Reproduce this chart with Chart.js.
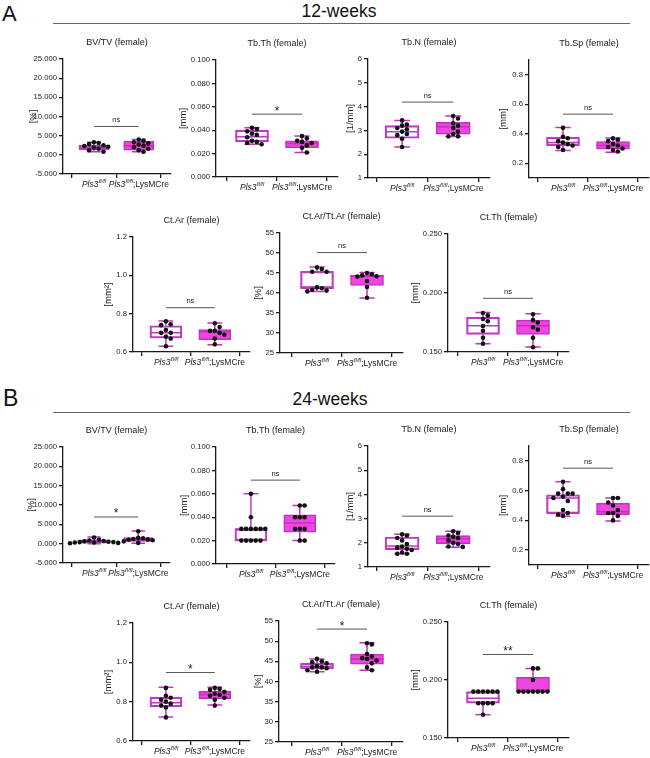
<!DOCTYPE html>
<html>
<head>
<meta charset="utf-8">
<script src="https://cdn.jsdelivr.net/npm/chart.js"></script>
<style>
body { margin:0; width:650px; height:758px; position:relative; background:#fff; overflow:hidden;
       font-family:"Liberation Sans", Arial, sans-serif; color:#111; }
.panel { position:absolute; line-height:1; }
.age { position:absolute; line-height:1; font-size:17.5px; transform:translateX(-50%); white-space:nowrap; }
.rule { position:absolute; height:1.3px; background:#666; }
canvas { position:absolute; }
</style>
</head>
<body>
<div class="panel" style="left:2px;top:3px;font-size:22px">A</div>
<div class="age" style="left:339px;top:3px">12-weeks</div>
<div class="rule" style="left:53px;width:577px;top:23px"></div>

<div class="panel" style="left:3px;top:387px;font-size:23px">B</div>
<div class="age" style="left:330px;top:391px">24-weeks</div>
<div class="rule" style="left:53px;width:577px;top:412px"></div>

<script type="text/JavaScript">

//------------------------------------------------------------------------------------------
// Data
//------------------------------------------------------------------------------------------

var GENE = "Pls3";
var GENE_SUP = "fl/fl";
var GROUP_SUFFIX = ["", ";LysMCre"];

var MEASURES = ["BV/TV (female)", "Tb.Th (female)", "Tb.N (female)", "Tb.Sp (female)",
                "Ct.Ar (female)", "Ct.Ar/Tt.Ar (female)", "Ct.Th (female)"];
var UNITS = ["[%]", "[mm]", "[1/mm]", "[mm]", "[mm\u00b2]", "[%]", "[mm]"];

// y axis range and tick labels per measure
var Y_RANGE = [[-5, 25], [0, 0.1], [1, 6], [0.1, 0.9], [0.6, 1.2], [25, 55], [0.15, 0.25]];
var Y_TICKS = [[-5, 0, 5, 10, 15, 20, 25],
               [0, 0.02, 0.04, 0.06, 0.08, 0.1],
               [1, 2, 3, 4, 5, 6],
               [0.2, 0.4, 0.6, 0.8],
               [0.6, 0.8, 1.0, 1.2],
               [25, 30, 35, 40, 45, 50, 55],
               [0.15, 0.2, 0.25]];
var Y_DECIMALS = [3, 3, 0, 1, 1, 0, 3];

// 12 weeks: points [control, LysMCre], box [min, q1, median, q3, max]
var bvtv12 = [[3.3, 3.1, 2.8, 2.5, 2.3, 2.1, 1.9, 1.6, 1.2, 0.8], [4.0, 3.7, 3.3, 3.0, 2.7, 2.4, 2.0, 1.6, 1.2, 0.8]];
var bvtv12Box = [[0.8, 1.3, 1.9, 2.5, 3.3], [0.8, 1.2, 2.35, 3.5, 4.0]];
var tbth12 = [[0.042, 0.041, 0.039, 0.037, 0.036, 0.034, 0.031, 0.030, 0.029, 0.028], [0.035, 0.033, 0.031, 0.030, 0.029, 0.027, 0.025, 0.021]];
var tbth12Box = [[0.028, 0.030, 0.0343, 0.040, 0.042], [0.021, 0.025, 0.0286, 0.031, 0.035]];
var tbn12 = [[3.42, 3.25, 3.2, 3.1, 3.05, 2.95, 2.85, 2.8, 2.65, 2.3], [3.6, 3.5, 3.3, 3.2, 3.1, 2.95, 2.85, 2.75, 2.75]];
var tbn12Box = [[2.3, 2.67, 2.94, 3.2, 3.42], [2.74, 2.84, 3.15, 3.34, 3.6]];
var tbsp12 = [[0.44, 0.38, 0.37, 0.35, 0.34, 0.33, 0.32, 0.31, 0.29], [0.37, 0.36, 0.35, 0.33, 0.32, 0.31, 0.30, 0.29, 0.28]];
var tbsp12Box = [[0.286, 0.32, 0.34, 0.377, 0.442], [0.275, 0.295, 0.32, 0.347, 0.372]];
var ctar12 = [[0.76, 0.745, 0.74, 0.715, 0.70, 0.70, 0.68, 0.67, 0.63], [0.75, 0.73, 0.71, 0.71, 0.70, 0.69, 0.67, 0.64]];
var ctar12Box = [[0.63, 0.673, 0.70, 0.737, 0.762], [0.638, 0.664, 0.706, 0.717, 0.751]];
var ctartt12 = [[46.4, 46.0, 45.3, 45.3, 41.4, 41.2, 40.8, 40.6, 40.4], [45.0, 44.7, 44.4, 44.2, 44.1, 43.0, 41.5, 38.8]];
var ctartt12Box = [[40.4, 41.1, 41.5, 45.4, 46.5], [38.75, 41.9, 44.2, 44.4, 45.1]];
var ctth12 = [[0.183, 0.181, 0.178, 0.176, 0.172, 0.168, 0.162, 0.157], [0.182, 0.177, 0.175, 0.171, 0.169, 0.162, 0.154]];
var ctth12Box = [[0.157, 0.165, 0.1722, 0.1796, 0.1835], [0.1543, 0.165, 0.1722, 0.177, 0.1824]];
var sig12 = ["ns", "*", "ns", "ns", "ns", "ns", "ns"];
var sig12Y = [7.4, 0.0537, 4.19, 0.533, 0.831, 50.1, 0.1955];

// 24 weeks
var bvtv24 = [[1.6, 1.0, 0.8, 0.7, 0.6, 0.5, 0.4, 0.4, 0.3, 0.3, 0.2, 0.1], [3.2, 1.5, 1.4, 1.2, 1.1, 1.0, 0.9, 0.6, 0.2]];
var bvtv24Box = [[0.0, 0.1, 0.5, 1.0, 1.7], [0.1, 0.6, 1.03, 1.55, 3.3]];
var tbth24 = [[0.06, 0.04, 0.03, 0.03, 0.03, 0.03, 0.03, 0.03, 0.02, 0.02, 0.02, 0.02, 0.02], [0.05, 0.05, 0.04, 0.04, 0.04, 0.03, 0.03, 0.03, 0.02, 0.02]];
var tbth24Box = [[0.02, 0.02, 0.03, 0.03, 0.06], [0.02, 0.0272, 0.035, 0.042, 0.05]];
var tbn24 = [[2.35, 2.3, 2.2, 2.1, 1.95, 1.85, 1.8, 1.75, 1.7, 1.6, 1.55, 1.55], [2.48, 2.4, 2.3, 2.25, 2.2, 2.1, 2.0, 1.95, 1.85, 1.83]];
var tbn24Box = [[1.55, 1.72, 1.87, 2.24, 2.35], [1.82, 1.96, 2.17, 2.3, 2.48]];
var tbsp24 = [[0.66, 0.61, 0.58, 0.58, 0.58, 0.56, 0.55, 0.53, 0.47, 0.45, 0.44, 0.43], [0.55, 0.55, 0.52, 0.50, 0.47, 0.45, 0.45, 0.43, 0.40]];
var tbsp24Box = [[0.427, 0.445, 0.55, 0.572, 0.66], [0.396, 0.438, 0.458, 0.514, 0.55]];
var ctar24 = [[0.87, 0.83, 0.82, 0.81, 0.80, 0.79, 0.78, 0.77, 0.72], [0.87, 0.865, 0.86, 0.85, 0.84, 0.835, 0.83, 0.82, 0.81, 0.78]];
var ctar24Box = [[0.722, 0.774, 0.794, 0.823, 0.873], [0.783, 0.815, 0.837, 0.852, 0.873]];
var ctartt24 = [[45.6, 45.0, 44.8, 44.5, 43.8, 43.5, 43.5, 43.3, 42.8, 42.4], [49.5, 49.2, 46.8, 46.2, 45.8, 45.6, 45.2, 44.5, 43.5, 42.8]];
var ctartt24Box = [[42.4, 43.1, 43.7, 44.5, 45.6], [42.8, 44.3, 45.6, 46.8, 49.6]];
var ctth24 = [[0.19, 0.19, 0.19, 0.19, 0.19, 0.19, 0.18, 0.18, 0.18, 0.18, 0.17], [0.21, 0.21, 0.20, 0.19, 0.19, 0.19, 0.19, 0.19, 0.19, 0.19]];
var ctth24Box = [[0.17, 0.18, 0.1843, 0.19, 0.19], [0.19, 0.19, 0.19, 0.2023, 0.21]];
var sig24 = ["*", "ns", "ns", "ns", "*", "*", "**"];
var sig24Y = [6.9, 0.0717, 3.1, 0.751, 0.948, 53.0, 0.222];

//------------------------------------------------------------------------------------------
// Layout: [axis left, group0 x, group1 x, plot top, plot bottom, y title offset]
//------------------------------------------------------------------------------------------

var LAYOUT12 = [[63, 94, 139, 59, 174, 30], [216, 252, 302, 60, 177, 33], [368, 402, 453, 59, 178, 18], [529, 563, 613, 60, 178, 26],
                [133, 166, 215, 237, 352, 25], [280, 317, 367, 233, 353, 22], [448, 483, 533, 234, 352, 33]];
var LAYOUT24 = [[63, 94, 138, 447, 563, 32], [216, 251, 300, 447, 564, 32], [368, 402, 453, 446, 567, 18], [529, 563, 613, 446, 565, 26],
                [133, 166, 215, 623, 741, 25], [279, 317, 367, 621, 742, 21], [448, 483, 533, 622, 738, 33]];

var OPEN_BORDER = "#BE3ABF";
var FILL = "#EE46DF";
var FILL_BORDER = "#C52FC1";
var INK = "#1a1a1a";
var FONT = '"Liberation Sans", Arial, sans-serif';

Chart.defaults.font.family = FONT;
Chart.defaults.color = INK;

// spread points sideways where they would overlap (beeswarm)
function swarm(values, group, pxPerY, spacing) {
    var placed = [];
    var out = [];
    var order = values.map(function(v, i) { return i; }).sort(function(a, b) { return values[b] - values[a]; });
    order.forEach(function(i) {
        var py = values[i] * pxPerY;
        var steps = [0, 1, -1, 2, -2, 3, -3, 4, -4, 5, -5];
        var dx = 0;
        for (var s = 0; s < steps.length; s++) {
            var cand = steps[s] * 4.8;
            var hit = placed.some(function(p) {
                return (p[0] - cand) * (p[0] - cand) + (p[1] - py) * (p[1] - py) < 4.7 * 4.7;
            });
            if (!hit) { dx = cand; break; }
        }
        placed.push([dx, py]);
        out.push({x: group + dx / spacing, y: values[i]});
    });
    return out;
}

function drawBoxPlot(id, m, points, box, sigLabel, sigY, lay) {
    var L = lay[0], c0 = lay[1], c1 = lay[2], top = lay[3], bot = lay[4], titleOff = lay[5];
    var sp = c1 - c0;
    var xmin = -(c0 - L) / sp, xmax = 1.72;
    var R = c1 + 0.72 * sp;
    var yr = Y_RANGE[m];
    var pxPerY = (bot - top) / (yr[1] - yr[0]);
    var barW = Math.round(0.66 * sp);

    var cv = document.createElement("canvas");
    cv.id = id;
    cv.width = Math.round(R - L + 68);
    cv.height = bot - top + 50;
    cv.style.left = (L - 62) + "px";
    cv.style.top = (top - 28) + "px";
    document.body.appendChild(cv);

    var pts = swarm(points[0], 0, pxPerY, sp).concat(swarm(points[1], 1, pxPerY, sp));

    var extras = {
        id: "boxExtras",
        afterDatasetDraw: function(chart, args) {
            if (args.index !== 0) return;
            var ctx = chart.ctx, xs = chart.scales.x, ys = chart.scales.y;
            ctx.save();
            for (var g = 0; g < 2; g++) {
                var b = box[g];
                var x = xs.getPixelForValue(g);
                ctx.strokeStyle = g === 0 ? OPEN_BORDER : FILL_BORDER;
                ctx.lineWidth = 1.5;
                ctx.beginPath();
                // median
                ctx.moveTo(x - barW / 2, ys.getPixelForValue(b[2]));
                ctx.lineTo(x + barW / 2, ys.getPixelForValue(b[2]));
                // whiskers
                ctx.moveTo(x, ys.getPixelForValue(b[3]));
                ctx.lineTo(x, ys.getPixelForValue(b[4]));
                ctx.moveTo(x, ys.getPixelForValue(b[1]));
                ctx.lineTo(x, ys.getPixelForValue(b[0]));
                var cap = barW * 0.23;
                ctx.moveTo(x - cap, ys.getPixelForValue(b[4]));
                ctx.lineTo(x + cap, ys.getPixelForValue(b[4]));
                ctx.moveTo(x - cap, ys.getPixelForValue(b[0]));
                ctx.lineTo(x + cap, ys.getPixelForValue(b[0]));
                ctx.stroke();
            }
            ctx.restore();
        },
        afterDraw: function(chart) {
            var ctx = chart.ctx, xs = chart.scales.x, ys = chart.scales.y, a = chart.chartArea;
            ctx.save();
            // title
            ctx.fillStyle = INK;
            ctx.font = "9px " + FONT;
            ctx.textAlign = "center";
            ctx.textBaseline = "middle";
            ctx.fillText(MEASURES[m], (a.left + a.right) / 2, a.top - 16);
            // significance bracket
            var by = ys.getPixelForValue(sigY);
            ctx.strokeStyle = "#555";
            ctx.lineWidth = 1;
            ctx.beginPath();
            ctx.moveTo(xs.getPixelForValue(0), by);
            ctx.lineTo(xs.getPixelForValue(1), by);
            ctx.stroke();
            ctx.textBaseline = "alphabetic";
            if (sigLabel === "ns") {
                ctx.font = "7.5px " + FONT;
                ctx.fillText(sigLabel, xs.getPixelForValue(0.5), by - 4.5);
            } else {
                ctx.font = "12px " + FONT;
                ctx.fillText(sigLabel, xs.getPixelForValue(0.5), by + 0.5);
            }
            // group labels: italic gene, superscript allele, suffix
            ctx.textAlign = "left";
            var base = a.bottom + 12.5;
            for (var g = 0; g < 2; g++) {
                ctx.font = "italic 8.5px " + FONT;
                var w1 = ctx.measureText(GENE).width;
                ctx.font = "italic 5.8px " + FONT;
                var w2 = ctx.measureText(GENE_SUP).width;
                ctx.font = "8.5px " + FONT;
                var w3 = ctx.measureText(GROUP_SUFFIX[g]).width;
                var x = xs.getPixelForValue(g) - (w1 + w2 + w3) / 2;
                ctx.font = "italic 8.5px " + FONT;
                ctx.fillText(GENE, x, base);
                ctx.font = "italic 5.8px " + FONT;
                ctx.fillText(GENE_SUP, x + w1 + 0.3, base - 4);
                ctx.font = "8.5px " + FONT;
                ctx.fillText(GROUP_SUFFIX[g], x + w1 + w2 + 0.3, base);
            }
            ctx.restore();
        }
    };

    return new Chart(cv.getContext("2d"), {
        type: "bar",
        data: {
            datasets: [
                {
                    type: "bar",
                    order: 1,
                    data: [{x: 0, y: [box[0][1], box[0][3]]}, {x: 1, y: [box[1][1], box[1][3]]}],
                    backgroundColor: ["rgba(255,255,255,0)", FILL],
                    borderColor: [OPEN_BORDER, FILL_BORDER],
                    borderWidth: 1.5,
                    borderSkipped: false,
                    barThickness: barW
                },
                {
                    type: "scatter",
                    order: 0,
                    data: pts,
                    pointRadius: 2.3,
                    pointBackgroundColor: "#111",
                    pointBorderWidth: 0
                }
            ]
        },
        options: {
            responsive: false,
            animation: false,
            events: [],
            layout: { padding: { left: 0, top: 28, right: 6, bottom: 0 } },
            plugins: { legend: { display: false }, tooltip: { enabled: false } },
            scales: {
                x: {
                    type: "linear", min: xmin, max: xmax, offset: false,
                    afterBuildTicks: function(s) { s.ticks = [{value: 0}, {value: 1}]; },
                    afterFit: function(s) { s.height = 22; },
                    border: { color: INK, width: 1.3 },
                    grid: { drawOnChartArea: false, tickLength: 4, color: INK, lineWidth: 1.3 },
                    ticks: { display: false }
                },
                y: {
                    type: "linear", min: yr[0], max: yr[1],
                    afterBuildTicks: function(s) { s.ticks = Y_TICKS[m].map(function(v) { return {value: v}; }); },
                    afterFit: function(s) { s.width = 62; },
                    border: { color: INK, width: 1.3 },
                    grid: { drawOnChartArea: false, tickLength: 4, color: INK, lineWidth: 1.3 },
                    ticks: {
                        font: { size: 7.7 }, color: INK, padding: 2,
                        callback: function(v) { return Number(v).toFixed(Y_DECIMALS[m]); }
                    },
                    title: { display: true, text: UNITS[m], font: { size: 9.5 }, color: INK,
                             padding: { top: 56.3 - titleOff, bottom: 0 } }
                }
            }
        },
        plugins: [extras]
    });
}

//------------------------------------------------------------------------------------------
var data12 = [[bvtv12, bvtv12Box], [tbth12, tbth12Box], [tbn12, tbn12Box], [tbsp12, tbsp12Box],
              [ctar12, ctar12Box], [ctartt12, ctartt12Box], [ctth12, ctth12Box]];
var data24 = [[bvtv24, bvtv24Box], [tbth24, tbth24Box], [tbn24, tbn24Box], [tbsp24, tbsp24Box],
              [ctar24, ctar24Box], [ctartt24, ctartt24Box], [ctth24, ctth24Box]];

for (var i = 0; i < 7; i++) {
    drawBoxPlot("w12_" + i, i, data12[i][0], data12[i][1], sig12[i], sig12Y[i], LAYOUT12[i]);
    drawBoxPlot("w24_" + i, i, data24[i][0], data24[i][1], sig24[i], sig24Y[i], LAYOUT24[i]);
}

</script>
</body>
</html>
